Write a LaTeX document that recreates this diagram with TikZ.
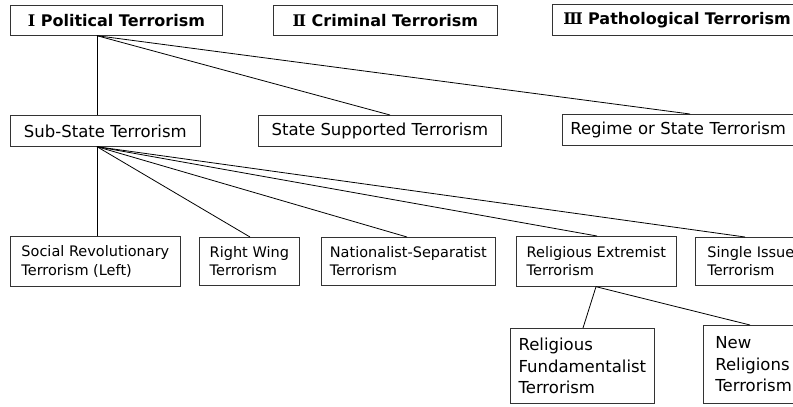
\documentclass[tikz,border=0pt]{standalone}
\usepackage{fontspec}
\setmainfont{DejaVu Sans}
\newfontfamily\romfont{DejaVu Serif}
\newcommand\fbig{\fontsize{16.5bp}{21.7bp}\selectfont}
\newcommand\fsml{\fontsize{14.5bp}{18.4bp}\selectfont}
\newcommand\ftop{\fontsize{16bp}{20bp}\selectfont\bfseries}
\newcommand\rn[1]{{\romfont\bfseries #1}}
\tikzset{
  box/.style={draw=black!80, line width=0.7bp, anchor=north west, inner ysep=0bp, inner xsep=0bp, align=left},
  topbox/.style={box, font=\ftop, align=center},
  midbox/.style={box, font=\fbig},
  lowbox/.style={box, font=\fsml},
  link/.style={draw=black, line width=0.8bp}
}
\begin{document}
\begin{tikzpicture}[x=1bp,y=1bp]
\useasboundingbox (0,0) rectangle (793,-406);
\clip (0,0) rectangle (793,-406);
% row 1
\node[topbox, minimum width=212bp, minimum height=30bp] (pol) at (10,-5) {\rn{Ⅰ} Political Terrorism};
\node[topbox, minimum width=224bp, minimum height=30bp] (crim) at (273,-5) {\rn{Ⅱ} Criminal Terrorism};
\node[topbox, align=left, inner xsep=11bp, text width=258bp, minimum height=31bp] (path) at (552,-4) {\rn{Ⅲ} Pathological Terrorism};
% row 2
\node[midbox, minimum width=190bp, minimum height=31bp] (sub) at (10,-115) {Sub-State Terrorism};
\node[midbox, minimum width=243bp, minimum height=31bp] (sup) at (258,-115) {State Supported Terrorism};
\node[midbox, inner xsep=8bp, text width=244bp, minimum height=31bp] (reg) at (562,-114) {Regime or State Terrorism};
% row 3
\node[lowbox, minimum width=170bp, minimum height=50bp] (soc) at (10,-236) {Social Revolutionary\\Terrorism (Left)};
\node[lowbox, minimum width=100bp, minimum height=48bp] (rw) at (199,-237) {Right Wing\\Terrorism};
\node[lowbox, minimum width=174bp, minimum height=48bp] (nat) at (321,-237) {Nationalist-Separatist\\Terrorism};
\node[lowbox, minimum width=160bp, minimum height=50bp] (rel) at (516,-236) {Religious Extremist\\Terrorism};
\node[lowbox, inner xsep=12bp, text width=110bp, minimum height=48bp] (sgl) at (695,-237) {Single Issue\\Terrorism};
% row 4
\node[midbox, minimum width=144bp, minimum height=75bp] (fund) at (510,-328) {Religious\\Fundamentalist\\Terrorism};
\node[midbox, inner xsep=12bp, text width=110bp, minimum height=78bp] (new) at (703,-325) {New\\Religions\\Terrorism};
% connectors
\draw[link] ([xshift=87bp]pol.south west) -- ([xshift=87bp]sub.north west);
\draw[link] ([xshift=87bp]pol.south west) -- ([xshift=132bp]sup.north west);
\draw[link] ([xshift=87bp]pol.south west) -- ([xshift=128bp]reg.north west);
\draw[link] ([xshift=87bp]sub.south west) -- ([xshift=87bp]soc.north west);
\draw[link] ([xshift=87bp]sub.south west) -- ([xshift=51bp]rw.north west);
\draw[link] ([xshift=87bp]sub.south west) -- ([xshift=86bp]nat.north west);
\draw[link] ([xshift=87bp]sub.south west) -- ([xshift=81bp]rel.north west);
\draw[link] ([xshift=87bp]sub.south west) -- ([xshift=50bp]sgl.north west);
\draw[link] ([xshift=80bp]rel.south west) -- ([xshift=73bp]fund.north west);
\draw[link] ([xshift=80bp]rel.south west) -- ([xshift=47bp]new.north west);
\end{tikzpicture}
\end{document}
